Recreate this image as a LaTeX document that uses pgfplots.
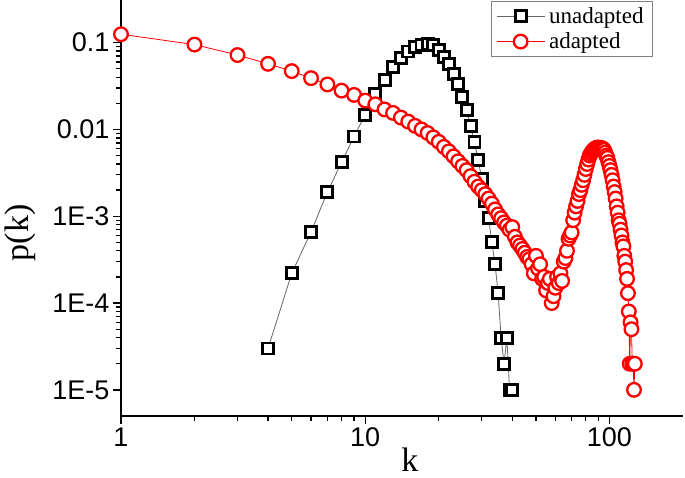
\documentclass[border=0pt]{standalone}
\usepackage{fontspec}
\setmainfont{Liberation Serif}
\setsansfont{Liberation Sans}
\usepackage{pgfplots}
\pgfplotsset{compat=1.18}
\begin{document}
\begin{tikzpicture}
\begin{axis}[
  at={(0,0)}, anchor=south west,
  scale only axis, width=562pt, height=416pt,
  xmode=log, ymode=log,
  xmin=1, xmax=200, ymin=5e-6, ymax=0.31,
  axis x line*=bottom, axis y line*=left,
  axis line style={line width=1.5pt,-},
  tick align=outside,
  major tick length=8pt, minor tick length=5pt,
  every tick/.style={line width=1.3pt, black},
  xtick={1,10,100}, xticklabels={1,10,100},
  ytick={1e-5,1e-4,1e-3,1e-2,1e-1}, yticklabels={1E-5,1E-4,1E-3,0.01,0.1},
  ticklabel style={font=\sffamily\fontsize{27}{27}\selectfont},
  xlabel={k}, ylabel={p(k)},
  label style={font=\fontsize{34}{34}\selectfont},
  xlabel style={at={(axis description cs:0.514,-0.134)}, anchor=base},
  ylabel style={at={(axis description cs:-0.18,0.44)}, anchor=center},
  clip=false,
  legend style={at={(axis description cs:0.9466,0.9976)}, anchor=north east,
    draw=gray, line width=0.8pt, font=\fontsize{23}{25}\selectfont,
    legend cell align=left, inner xsep=5pt, inner ysep=4pt, row sep=4pt,
    nodes={inner xsep=4pt}},
  legend image code/.code={\draw[mark repeat=2,mark phase=2,#1] plot coordinates {(0pt,0pt) (24pt,0pt) (48pt,0pt)};},
]
\addplot[color=black!60, line width=0.8pt,
  mark=square*, mark size=5.5pt, mark options={draw=black, fill=white, line width=2.9pt, solid}]
coordinates {
(4,3e-5) (5,2.2e-4) (6,6.6e-4) (7,1.9e-3) (8,4.2e-3) (9,8.3e-3) (10,0.0148)
(11,0.0255) (12,0.037) (13,0.052) (14,0.066) (15,0.079) (16,0.0885) (17,0.093)
(18,0.096) (19,0.093) (20,0.082) (21,0.069) (22,0.057) (23,0.044) (24,0.0335)
(25,0.0235) (26,0.0168) (27,0.011) (28,0.0072) (29,0.0044) (30,0.0027) (31,0.0015)
(32,0.00095) (33,0.0005) (34,0.00028) (35,0.00013) (36,4e-5) (37,2e-5) (38,4e-5)
(39,1e-5) (40,1e-5)
};
\addlegendentry{unadapted}
\addplot[color=red, line width=0.8pt,
  mark=*, mark size=6.8pt, mark options={draw=red, fill=white, line width=2.3pt, solid}]
coordinates {
(1,0.125) (2,0.095) (3,0.072) (4,0.057) (5,0.047) (6,0.039) (7,0.033) (8,0.028)
(9,0.025) (10,0.0215) (11,0.0195) (12,0.017) (13,0.0155) (14,0.0137) (15,0.0123)
(16,0.011) (17,0.0100) (18,0.0091) (19,0.0081) (20,0.0072) (21,0.0063) (22,0.0056)
(23,0.0049) (24,0.0043) (25,0.0038) (26,0.0034) (27,0.0029) (28,0.0025) (29,0.0022)
(30,0.0020) (31,0.0018) (32,0.0016) (33,0.0014) (34,0.0012) (35,0.00105) (36,0.00095)
(37,0.00085) (38,0.00078) (39,0.0007) (40,0.00075) (41,0.00058) (42,0.0005)
(43,0.00046) (44,0.00042) (45,0.00038) (46,0.00034) (47,0.00032) (48,0.00028)
(49,0.00022) (50,0.00035) (51,0.00025) (52,0.00028) (53,0.00019) (54,0.0002)
(55,0.00014) (56,0.00017) (57,0.00019) (58,0.0001) (59,0.00012) (60,0.00015)
(61,0.0002) (62,0.00017) (63,0.00022) (64,0.00018) (65,0.0003) (66,0.00033)
(67,0.0004) (68,0.00055) (69,0.0006) (70,0.00065) (71,0.0009) (72,0.0011)
(73,0.0013) (74,0.0015) (75,0.0018) (76,0.002) (77,0.0023) (78,0.0026) (79,0.003)
(80,0.0035) (81,0.004) (82,0.0045) (83,0.005) (84,0.0053) (85,0.0056) (86,0.0058)
(87,0.006) (88,0.006) (89,0.0062) (90,0.0061) (91,0.0062) (92,0.006) (93,0.0061)
(94,0.006) (95,0.0058) (96,0.0054) (97,0.005) (98,0.0047) (99,0.0042) (100,0.0038)
(101,0.0034) (102,0.003) (103,0.0026) (104,0.0022) (105,0.0019) (106,0.0016)
(107,0.0013) (108,0.0011) (109,0.0009) (110,0.00082) (111,0.0007) (112,0.0006)
(113,0.0005) (114,0.00045) (115,0.00035) (116,0.0003) (117,0.00024) (118,0.00019)
(119,0.00013) (120,0.00008) (121,0.00002) (122,0.00006) (123,0.00005) (124,0.00002)
(125,0.00002) (126,0.00001) (127,0.00002)
};
\addlegendentry{adapted}
\end{axis}
\pgfresetboundingbox
\path[use as bounding box] (-121pt,-62pt) rectangle (564pt,416pt);
\end{tikzpicture}
\end{document}
